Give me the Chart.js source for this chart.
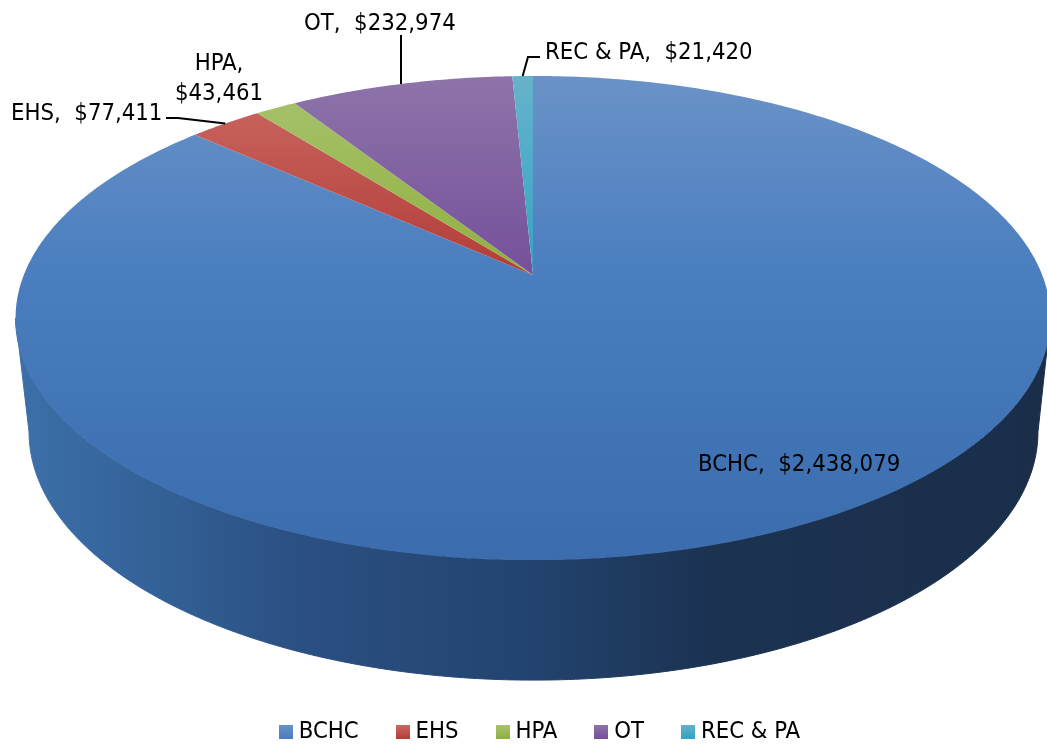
<!DOCTYPE html>
<html>
<head>
<meta charset="utf-8">
<style>
  html, body { margin: 0; padding: 0; background: #fff; overflow: hidden; }
  canvas { display: block; }
</style>
<script src="https://cdn.jsdelivr.net/npm/chart.js@4/dist/chart.umd.js"></script>
</head>
<body>
<canvas id="pie3d" width="1047" height="744"></canvas>
<script>
var categories = ['BCHC', 'EHS', 'HPA', 'OT', 'REC & PA'];
var amounts = [2438079, 77411, 43461, 232974, 21420];

// top face colours per slice, top of pie -> apex -> front edge
var faceTop = ['#6a92c8', '#cc6a64', '#a9c36f', '#8e74aa', '#66b3ca'];
var faceMid = ['#4a7ebf', '#b23c38', '#8fb03f', '#75509a', '#34a3c4'];
var faceLow = ['#3a6cae', '#a8322e', '#85a636', '#6b4690', '#2a99ba'];

var wallOffsets = [0, 0.13, 0.27, 0.49, 0.68, 1];
var wallColors = ['#3d70a9', '#336298', '#2b5083', '#234470', '#1b3251', '#1a2e4a'];

// label text position + leader line per slice
var labelSpots = [
  { x: 698, y: 471, align: 'left' },
  { x: 11, y: 120, align: 'left', leader: [[166, 118], [178, 118]] },
  { x: 219, y: 100, align: 'center', split: true },
  { x: 304, y: 30, align: 'left', leader: [[401, 35]] },
  { x: 545, y: 59, align: 'left', leader: [[540, 57], [528, 57]] }
];

var FONT = '"DejaVu Sans Condensed"';
var FONT_SIZE = 23.7;

// the perspective disc: k tilts it, a/b are the radii, cy the apex height
var topDisc = { cx: 533, cy: 275, a: 509.2, b: 234.4 };
var lowDisc = { cx: 533.5, cy: 388, a: 496.4, b: 240.2 };
var k = -0.1777;

function project(disc, angle) {
  var u = Math.cos(angle), v = Math.sin(angle);
  var w = 1 + k * v;
  return { x: disc.cx + disc.a * u / w, y: disc.cy + disc.b * v / w };
}

function money(n) {
  return '$' + n.toLocaleString('en-US');
}

function swatch(i) {
  var c = document.createElement('canvas');
  c.width = 14;
  c.height = 14;
  var g = c.getContext('2d');
  var fill = g.createLinearGradient(0, 0, 0, 14);
  fill.addColorStop(0, faceTop[i]);
  fill.addColorStop(1, faceMid[i]);
  g.fillStyle = fill;
  g.fillRect(0, 0, 14, 14);
  return c;
}

var pie3dPlugin = {
  id: 'pie3d',
  // legend sits lower than chart.js would put it with this much label padding
  afterLayout: function(chart) {
    var legend = chart.legend;
    legend.left += 19;
    legend.right += 19;
    legend.top = 677;
    legend.bottom = 744;
  },
  // the arcs are laid out by chart.js, only the drawing is projected
  beforeDatasetsDraw: function(chart) {
    var ctx = chart.ctx;
    var arcs = chart.getDatasetMeta(0).data;
    var frontStart = Math.asin(-k), frontEnd = Math.PI - frontStart;

    arcs.forEach(function(arc) {
      var props = arc.getProps(['startAngle', 'endAngle'], true);
      var from = Math.max(props.startAngle, frontStart);
      var to = Math.min(props.endAngle, frontEnd);
      if (to <= from) return;
      var wall = ctx.createLinearGradient(15, 0, 1047, 0);
      wallOffsets.forEach(function(o, j) { wall.addColorStop(o, wallColors[j]); });
      ctx.beginPath();
      var p, t, n = 240;
      for (t = 0; t <= n; t++) {
        p = project(topDisc, from + (to - from) * t / n);
        if (t === 0) ctx.moveTo(p.x, p.y); else ctx.lineTo(p.x, p.y);
      }
      for (t = n; t >= 0; t--) {
        p = project(lowDisc, from + (to - from) * t / n);
        ctx.lineTo(p.x, p.y);
      }
      ctx.closePath();
      ctx.fillStyle = wall;
      ctx.strokeStyle = wall;
      ctx.lineWidth = 1;
      ctx.fill();
      ctx.stroke();
    });

    arcs.forEach(function(arc, i) {
      var props = arc.getProps(['startAngle', 'endAngle'], true);
      var fill = ctx.createLinearGradient(0, 76, 0, 560);
      fill.addColorStop(0, faceTop[i]);
      fill.addColorStop(0.41, faceMid[i]);
      fill.addColorStop(1, faceLow[i]);
      ctx.beginPath();
      ctx.moveTo(topDisc.cx, topDisc.cy);
      var n = Math.max(4, Math.ceil((props.endAngle - props.startAngle) * 80));
      for (var t = 0; t <= n; t++) {
        var p = project(topDisc, props.startAngle + (props.endAngle - props.startAngle) * t / n);
        ctx.lineTo(p.x, p.y);
      }
      ctx.closePath();
      ctx.fillStyle = fill;
      ctx.fill();
    });
    return false;
  },
  // returning false above skips afterDatasetsDraw, so labels go here
  afterDraw: function(chart) {
    var ctx = chart.ctx;
    var arcs = chart.getDatasetMeta(0).data;
    ctx.save();
    ctx.fillStyle = '#000';
    ctx.strokeStyle = '#000';
    ctx.lineWidth = 2;
    ctx.font = FONT_SIZE + 'px ' + FONT;
    ctx.textBaseline = 'alphabetic';
    labelSpots.forEach(function(spot, i) {
      ctx.textAlign = spot.align;
      if (spot.split) {
        ctx.fillText(categories[i] + ',', spot.x, spot.y - 30);
        ctx.fillText(money(amounts[i]), spot.x, spot.y);
      } else {
        ctx.fillText(categories[i] + ',  ' + money(amounts[i]), spot.x, spot.y);
      }
      if (spot.leader) {
        var props = arcs[i].getProps(['startAngle', 'endAngle'], true);
        var end = project(topDisc, (props.startAngle + props.endAngle) / 2);
        ctx.beginPath();
        spot.leader.forEach(function(pt, j) {
          if (j === 0) ctx.moveTo(pt[0], pt[1]); else ctx.lineTo(pt[0], pt[1]);
        });
        ctx.lineTo(end.x, end.y);
        ctx.stroke();
      }
    });
    ctx.restore();
  }
};

new Chart(document.getElementById('pie3d'), {
  type: 'pie',
  plugins: [pie3dPlugin],
  data: {
    labels: categories,
    datasets: [{
      data: amounts,
      backgroundColor: faceMid,
      borderWidth: 0
    }]
  },
  options: {
    responsive: false,
    animation: false,
    plugins: {
      tooltip: { enabled: false },
      legend: {
        position: 'bottom',
        labels: {
          usePointStyle: true,
          pointStyleWidth: 2,
          padding: 43,
          color: '#000',
          font: { family: FONT, size: FONT_SIZE },
          generateLabels: function() {
            return categories.map(function(name, i) {
              return { text: name, pointStyle: swatch(i), fillStyle: faceMid[i], strokeStyle: faceMid[i], lineWidth: 0, index: i };
            });
          }
        }
      }
    }
  }
});
</script>
</body>
</html>
